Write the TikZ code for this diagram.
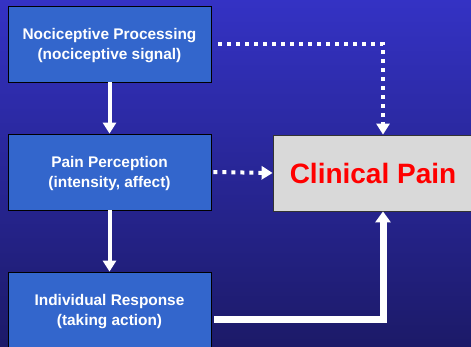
\documentclass[tikz,border=0pt]{standalone}
\usepackage{fontspec}
\setmainfont{Liberation Sans}
\usetikzlibrary{arrows.meta,calc}
\definecolor{bgtop}{RGB}{52,50,196}
\definecolor{bgbot}{RGB}{28,26,104}
\definecolor{boxblue}{RGB}{51,102,204}
\definecolor{cpgray}{RGB}{217,217,217}
\begin{document}
\begin{tikzpicture}[x=1pt,y=-1pt,
  stagebox/.style={draw=black,line width=0.8pt,fill=boxblue,minimum width=203pt,minimum height=76pt,
    align=center,text=white,font=\bfseries\fontsize{15.4}{19.5}\selectfont,inner sep=0pt,text depth=0pt},
  painbox/.style={draw=black!80,line width=0.8pt,fill=cpgray,minimum width=200pt,minimum height=76pt,
    text=red,font=\bfseries\fontsize{28}{32}\selectfont,inner sep=0pt},
  solidarrow/.style={draw=white,line width=4pt,-{Triangle[width=13pt,length=11pt]}},
  dotarrow/.style={draw=white,line width=4pt,dash pattern=on 4pt off 5pt,-{Triangle[width=13pt,length=11pt]}},
  thickarrow/.style={draw=white,line width=7pt,-{Triangle[width=15pt,length=11pt]}}
]
\useasboundingbox (0,0) rectangle (471,346);
\shade[top color=bgtop,bottom color=bgbot] (0,0) rectangle (471,346);
\node[stagebox] (b1) at (109.5,44) {Nociceptive Processing\\(nociceptive signal)};
\node[stagebox] (b2) at (109.5,172) {Pain Perception\\(intensity, affect)};
\node[stagebox] (b3) at (109.5,310) {Individual Response\\(taking action)};
\node[painbox] (cp) at (373,173) {Clinical Pain};
\coordinate (c1) at ($(cp.north)+(10,0)$);
\coordinate (c3) at ($(cp.south)+(10,0)$);
\draw[solidarrow] (b1.south) -- (b2.north);
\draw[solidarrow] (b2.south) -- (b3.north);
\draw[dotarrow] ($(b1.east)+(7,0)$) -| (c1);
\draw[dotarrow] ($(b2.east)+(2,0)$) -- (cp.west);
\draw[thickarrow] ($(b3.east)+(3,9)$) -| (c3);
\end{tikzpicture}
\end{document}
